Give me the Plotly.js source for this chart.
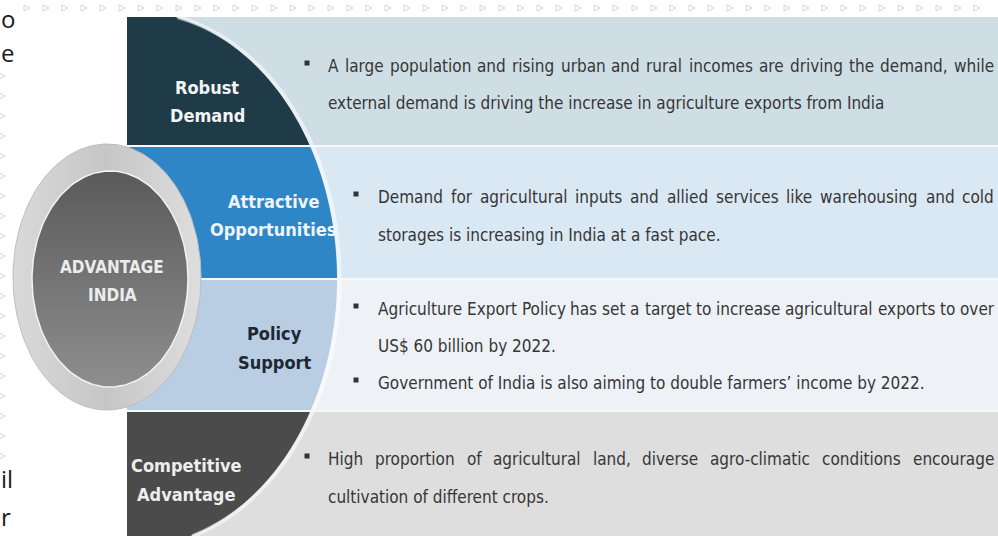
<!DOCTYPE html>
<html>
<head>
<meta charset="utf-8">
<script src="https://cdn.plot.ly/plotly-3.0.1.min.js"></script>
<style>html,body{margin:0;padding:0;background:#fff;}#chart{width:998px;height:536px;}</style>
</head>
<body>
<div id="chart"></div>
<script>
// ---- content ----
const centerLabel = ["ADVANTAGE", "INDIA"];
const rowLabels = [
  ["Robust", "Demand"],
  ["Attractive", "Opportunities"],
  ["Policy", "Support"],
  ["Competitive", "Advantage"]
];
const rowBullets = [
  [["A large population and rising urban and rural incomes are driving the demand, while",
    "external demand is driving the increase in agriculture exports from India"]],
  [["Demand for agricultural inputs and allied services like warehousing and cold",
    "storages is increasing in India at a fast pace."]],
  [["Agriculture Export Policy has set a target to increase agricultural exports to over",
    "US$ 60 billion by 2022."],
   ["Government of India is also aiming to double farmers\u2019 income by 2022."]],
  [["High proportion of agricultural land, diverse agro-climatic conditions encourage",
    "cultivation of different crops."]]
];
const sideFragments = ["o", "e", "il", "r"];

// ---- layout / style ----
const W = 998, H = 536;
const panelX0 = 127;
const rowTop = [17, 147, 280, 412];
const rowBot = [145, 278, 410, 536];
const rowBg = ["#cfdee4", "#dae8f4", "#eef2f7", "#dedede"];
const rowShape = ["#1f3b48", "#2f86c6", "#b9cee3", "#4b4b4b"];
const labelColor = ["#f2f5f7", "#eef4fa", "#1d2833", "#eeeeee"];
const labelCx = [207, 273, 274, 186];
const labelY = [[87, 115], [201, 229], [333, 362], [465, 494]];
const bulletX = [307, 356, 356, 307];
const textX = [327, 377, 377, 327];
const justifyRight = 993;
const lineY = [[[66, 103]], [[197, 235]], [[309, 346], [383]], [[459, 497]]];
const sideX = [0, 0, 0, 0];
const sideY = [18, 52, 478, 516];
// arc (ellipse) bounding the coloured label shapes
const arc = {cx: 132, cy: 279, a: 205, b: 268};
function edgeX(y) {
  const t = (y - arc.cy) / arc.b;
  return arc.cx + arc.a * Math.sqrt(Math.max(0, 1 - t * t));
}
const labelFont = "Liberation Sans Narrow, DejaVu Sans Condensed, sans-serif";
const bodyFam = "DejaVu Sans Condensed";
const bodySize = 17;

const shapes = [];
const annotations = [];
const traces = [];

// background pattern (decorative)
const px = [], py = [];
for (let x = 30; x < W; x += 19) { px.push(x); py.push(8); }
for (let y = 76; y < 460; y += 20) { px.push(5); py.push(y); }
traces.push({type: "scatter", mode: "markers", x: px, y: py, hoverinfo: "skip", showlegend: false,
  marker: {symbol: "arrow-right-open", size: 6, color: "#c8d6ea", line: {color: "#c8d6ea", width: 1}}});

// row backgrounds
rowTop.forEach((t, i) => {
  shapes.push({type: "rect", xref: "x", yref: "y", x0: panelX0, x1: W, y0: t, y1: rowBot[i],
    fillcolor: rowBg[i], line: {width: 0}, layer: "below"});
});
// coloured label shapes bounded by arc
rowTop.forEach((t, i) => {
  const b = rowBot[i];
  let p = `M ${panelX0},${t} `;
  const n = 40;
  for (let k = 0; k <= n; k++) {
    const y = t + (b - t) * k / n;
    p += `L ${edgeX(y).toFixed(2)},${y.toFixed(2)} `;
  }
  p += `L ${panelX0},${b} Z`;
  shapes.push({type: "path", xref: "x", yref: "y", path: p, fillcolor: rowShape[i],
    line: {width: 0}, layer: "below"});
});
// light rim along the arc
{
  let p = "";
  const n = 120;
  for (let k = 0; k <= n; k++) {
    const y = rowTop[0] + (rowBot[3] - rowTop[0]) * k / n;
    p += (k ? "L " : "M ") + `${(edgeX(y) + 2.5).toFixed(2)},${y.toFixed(2)} `;
  }
  shapes.push({type: "path", xref: "x", yref: "y", path: p,
    line: {color: "rgba(255,255,255,0.55)", width: 4}, layer: "below"});
}
// separators between rows
for (let i = 1; i < rowTop.length; i++) {
  const y = (rowBot[i - 1] + rowTop[i]) / 2;
  shapes.push({type: "line", xref: "x", yref: "y", x0: panelX0, x1: W, y0: y, y1: y,
    line: {color: "#f6f8fa", width: 2}, layer: "below"});
}

// central ring and disc (gradient fills)
function ellipse(cx, cy, rx, ry) {
  const xs = [], ys = [];
  for (let k = 0; k <= 180; k++) {
    const th = 2 * Math.PI * k / 180;
    xs.push(cx + rx * Math.cos(th)); ys.push(cy + ry * Math.sin(th));
  }
  return {xs, ys};
}
const outer = ellipse(107, 277, 94, 133);
traces.push({type: "scatter", mode: "lines", x: outer.xs, y: outer.ys, fill: "toself",
  fillgradient: {type: "horizontal", colorscale: [[0, "#d9d9d9"], [0.5, "#c6c6c6"], [1, "#dedede"]]},
  line: {color: "#bdbdbd", width: 1}, hoverinfo: "skip", showlegend: false});
const inner = ellipse(110, 279, 78, 108);
traces.push({type: "scatter", mode: "lines", x: inner.xs, y: inner.ys, fill: "toself",
  fillgradient: {type: "vertical", colorscale: [[0, "#8e8e8e"], [1, "#5a5a5a"]]},
  line: {color: "#f2f2f2", width: 1.5}, hoverinfo: "skip", showlegend: false});
centerLabel.forEach((s, k) => {
  annotations.push({x: 112, y: 267 + k * 28, xref: "x", yref: "y", text: s, showarrow: false,
    xanchor: "center", yanchor: "middle",
    font: {family: labelFont, size: 17, color: "#ececec", weight: "bold"}});
});

// row labels
rowLabels.forEach((lines, i) => {
  lines.forEach((s, k) => {
    annotations.push({x: labelCx[i], y: labelY[i][k], xref: "x", yref: "y", text: s, showarrow: false,
      xanchor: "center", yanchor: "middle",
      font: {family: labelFont, size: 18, color: labelColor[i], weight: "bold"}});
  });
});

// bullets + body text (non-final lines of a paragraph are justified)
const ctx = document.createElement("canvas").getContext("2d");
ctx.font = `${bodySize}px "${bodyFam}"`;
const bodyFont = {family: bodyFam + ", sans-serif", size: bodySize, color: "#363636"};
const bx = [], by = [];
rowBullets.forEach((paras, i) => {
  paras.forEach((lines, j) => {
    bx.push(bulletX[i]); by.push(lineY[i][j][0] - 3);
    lines.forEach((s, k) => {
      const y = lineY[i][j][k];
      if (k < lines.length - 1) {
        const words = s.split(" ");
        const ws = words.map(w => ctx.measureText(w).width);
        const total = ws.reduce((a, b) => a + b, 0);
        const gap = (justifyRight - textX[i] - total) / (words.length - 1);
        let x = textX[i];
        words.forEach((w, m) => {
          annotations.push({x: x, y: y, xref: "x", yref: "y", text: w, showarrow: false,
            xanchor: "left", yanchor: "middle", font: bodyFont, borderpad: 0});
          x += ws[m] + gap;
        });
      } else {
        annotations.push({x: textX[i], y: y, xref: "x", yref: "y", text: s, showarrow: false,
          xanchor: "left", yanchor: "middle", font: bodyFont, borderpad: 0});
      }
    });
  });
});
traces.push({type: "scatter", mode: "markers", x: bx, y: by, hoverinfo: "skip", showlegend: false,
  marker: {symbol: "square", size: 5, color: "#333333"}});

// text of the surrounding page, at the left edge
sideFragments.forEach((s, i) => {
  annotations.push({x: sideX[i], y: sideY[i], xref: "x", yref: "y", text: s, showarrow: false,
    xanchor: "left", yanchor: "middle", borderpad: 0,
    font: {family: "Open Sans, sans-serif", size: 24, color: "#1a1a1a"}});
});

const layout = {
  width: W, height: H, margin: {l: 0, r: 0, t: 0, b: 0},
  paper_bgcolor: "#ffffff", plot_bgcolor: "#ffffff",
  xaxis: {range: [0, W], visible: false, fixedrange: true},
  yaxis: {range: [H, 0], visible: false, fixedrange: true},
  shapes, annotations, showlegend: false
};
document.fonts.ready.then(() => {
  Plotly.newPlot("chart", traces, layout, {staticPlot: true, displayModeBar: false});
});
</script>
</body>
</html>
